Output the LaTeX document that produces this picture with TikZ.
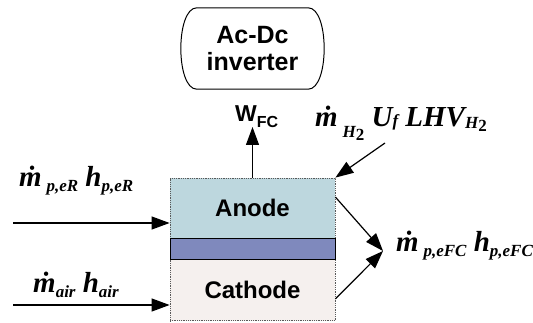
\documentclass[tikz,border=0pt]{standalone}
\usepackage{fontspec}
\setmainfont{Liberation Sans}
\newfontfamily\tnr{Liberation Serif}
\usepackage{xcolor}
\usetikzlibrary{arrows.meta, positioning, calc}

\definecolor{anodecol}{RGB}{189,215,222}
\definecolor{membcol}{RGB}{127,137,189}
\definecolor{cathcol}{RGB}{245,240,238}

% lowered small text for subscripts
\newcommand{\lo}[2][-0.35ex]{\raisebox{#1}{\fontsize{17}{17}\selectfont #2}}

\begin{document}
\begin{tikzpicture}[x=1pt, y=-1pt,
    part/.style={draw=gray!70!black, densely dotted, line width=0.8pt, minimum width=165pt,
                 inner sep=0pt, font=\fontsize{24}{26}\selectfont\bfseries},
    flow/.style={line width=1.2pt, -{Triangle[length=18pt,width=13pt]}},
    lbl/.style={font=\tnr\fontsize{29}{30}\selectfont\bfseries\itshape, inner sep=0pt}]

    \useasboundingbox (0,0) rectangle (533,323);

    % Fuel cell layers
    \node[part, fill=anodecol, minimum height=60pt] (anode) at (252.5,208) {Anode};
    \node[part, fill=cathcol, minimum height=61pt, below=21pt of anode] (cathode) {Cathode};
    \node[draw, line width=1pt, fill=membcol, minimum width=165pt, minimum height=21pt, inner sep=0pt]
        (membrane) at ($(anode.south)!0.5!(cathode.north)$) {};

    % Inverter (outline with bulging sides)
    \node[minimum width=143pt, minimum height=81pt, align=center,
          font=\fontsize{25}{27}\selectfont\bfseries] (inverter) at (252.5,48.5) {Ac-Dc\\inverter};
    \draw[line width=1pt]
        ([xshift=16pt]inverter.north west) -- ([xshift=-16pt]inverter.north east)
        .. controls ([xshift=5.3pt]inverter.north east) and ([xshift=5.3pt]inverter.south east)
        .. ([xshift=-16pt]inverter.south east) -- ([xshift=16pt]inverter.south west)
        .. controls ([xshift=-5.3pt]inverter.south west) and ([xshift=-5.3pt]inverter.north west)
        .. cycle;

    % Electric power out
    \node[anchor=base west, inner sep=0pt, font=\fontsize{23}{23}\selectfont\bfseries] (wfc) at (235,122)
        {W\raisebox{-6pt}{\fontsize{16}{16}\selectfont FC}};
    \coordinate (wtip) at (252.5,127);
    \draw[flow] (anode.north) -- (wtip);

    % Hydrogen in
    \node[lbl, anchor=base west] (fuel) at (315,127)
        {\.m\,\lo[-0.8ex]{H\lo{\textup{2}}}\ U\lo[0pt]{f} LHV\lo[-0.1ex]{H\lo{\textup{2}}}};
    \coordinate (fuelstart) at (385,143);
    \draw[flow] (fuelstart) -- (anode.north east);

    % Anode inlet
    \node[lbl, anchor=base west] (inR) at (19,187) {\.m\,\lo{p,eR} h\lo{p,eR}};
    \coordinate (inRstart) at (13,223);
    \draw[flow] (inRstart) -- (inRstart -| anode.west);

    % Air inlet
    \node[lbl, anchor=base west] (inair) at (33,293) {\.m\lo{air} h\lo{air}};
    \coordinate (airstart) at (13,305);
    \draw[flow] (airstart) -- (airstart -| cathode.west);

    % Exhaust
    \node[lbl, anchor=base west] (out) at (396,252) {\.m\,\lo{p,eFC} h\lo{p,eFC}};
    \coordinate (outtip) at (383,251);
    \draw[flow] ($(anode.north east)!0.32!(anode.south east)$) -- (outtip);
    \draw[flow] ($(cathode.north east)!0.64!(cathode.south east)$) -- (outtip);
\end{tikzpicture}
\end{document}
